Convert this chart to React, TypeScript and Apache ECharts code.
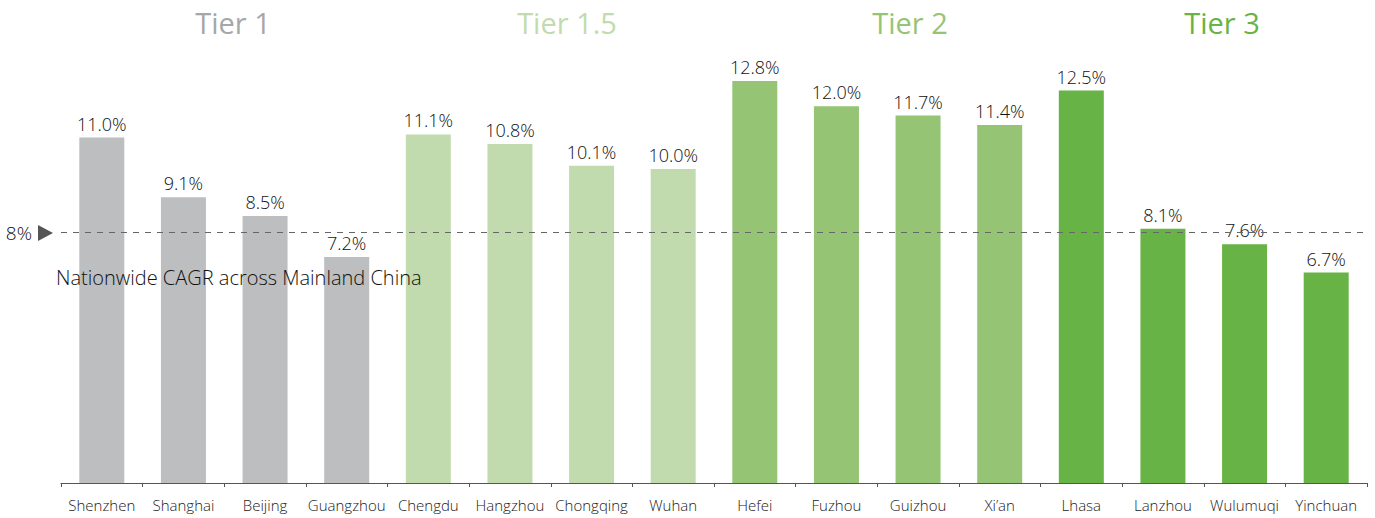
import React, { useEffect, useRef } from "react";
import * as echarts from "echarts";

const categories = ["Shenzhen", "Shanghai", "Beijing", "Guangzhou", "Chengdu", "Hangzhou", "Chongqing", "Wuhan", "Hefei", "Fuzhou", "Guizhou", "Xi’an", "Lhasa", "Lanzhou", "Wulumuqi", "Yinchuan"];
const values = [11.0, 9.1, 8.5, 7.2, 11.1, 10.8, 10.1, 10.0, 12.8, 12.0, 11.7, 11.4, 12.5, 8.1, 7.6, 6.7];
const tiers = [0, 0, 0, 0, 1, 1, 1, 1, 2, 2, 2, 2, 3, 3, 3, 3];
const tierNames = ["Tier 1", "Tier 1.5", "Tier 2", "Tier 3"];
const barColors = ["#BDBEC0", "#C2DBAE", "#95C475", "#67B345"];
const titleColors = ["#A6A7A9", "#C2DBAE", "#95C475", "#67B345"];
const nationwide = 8;
const nationwideLabel = "Nationwide CAGR across Mainland China";

const FONT = "'Open Sans'";

export default function App() {
  const ref = useRef<HTMLDivElement>(null);
  useEffect(() => {
    document.body.style.margin = "0";
    const chart = echarts.init(ref.current!, null, { renderer: "svg" });
    const titleX = [233, 567, 910, 1222];
    chart.setOption({
      animation: false,
      textStyle: { fontFamily: FONT },
      grid: { left: 61, right: 8, top: 12, bottom: 35 },
      xAxis: {
        type: "category",
        data: categories,
        axisLine: { lineStyle: { color: "#555", width: 1 } },
        axisTick: { show: true, length: 4, lineStyle: { color: "#555" } },
        axisLabel: { color: "#222", fontSize: 15, fontWeight: 300, margin: 14, fontFamily: FONT, interval: 0 },
      },
      yAxis: { type: "value", min: 0, max: 15, show: false, splitLine: { show: false } },
      series: [
        {
          type: "bar",
          barWidth: 45,
          z: 2,
          data: values.map((v, i) => ({ value: v, itemStyle: { color: barColors[tiers[i]] } })),
          label: {
            show: true,
            position: "top",
            distance: 5,
            formatter: (p: any) => p.value.toFixed(1) + "%",
            color: "#111",
            fontSize: 18,
            fontWeight: 300,
            fontFamily: FONT,
          },
          markLine: {
            silent: true,
            symbol: ["none", "none"],
            label: { show: false },
            lineStyle: { color: "#666", type: [6, 6], width: 1 },
            data: [{ yAxis: nationwide }],
          },
        },
      ],
      graphic: [
        ...tierNames.map((t, i) => ({
          type: "text",
          x: titleX[i],
          y: 22,
          z: 100,
          style: {
            text: t,
            fill: titleColors[i],
            font: `400 29px ${FONT}`,
            textAlign: "center",
            textVerticalAlign: "middle",
          },
        })),
        {
          type: "text",
          x: 32,
          y: 233,
          z: 100,
          style: { text: nationwide + "%", fill: "#111", font: `300 19px ${FONT}`, textAlign: "right", textVerticalAlign: "middle" },
        },
        {
          type: "polygon",
          z: 100,
          shape: { points: [[38, 225], [53, 233], [38, 241]] },
          style: { fill: "#555" },
        },
        {
          type: "text",
          x: 56,
          y: 277,
          z: 100,
          style: { text: nationwideLabel, fill: "#111", font: `300 20px ${FONT}`, textAlign: "left", textVerticalAlign: "middle" },
        },
      ],
    });
    return () => chart.dispose();
  }, []);
  return <div ref={ref} style={{ width: 1375, height: 518 }} />;
}
